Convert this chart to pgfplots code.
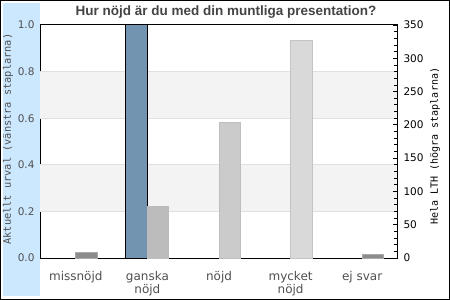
\documentclass[border=0pt]{standalone}
\usepackage{pgfplots}
\pgfplotsset{compat=1.18}
\usepackage{fontspec}
\setmainfont{DejaVu Sans}
\newfontfamily\titlefont{Liberation Sans}
\newfontfamily\monofont{DejaVu Sans Mono}
\definecolor{bandblue}{RGB}{204,232,255}
\definecolor{bandgray}{RGB}{243,243,243}
\definecolor{gridgray}{RGB}{224,224,224}
\definecolor{titlegray}{RGB}{68,68,68}
\definecolor{labgray}{RGB}{80,80,80}
\definecolor{barblue}{RGB}{114,148,176}
\begin{document}
\begin{tikzpicture}[x=1pt,y=1pt]
\fill[white] (0,0) rectangle (450,300);
\fill[bandblue] (3,4) rectangle (40,297);
\draw[black,line width=1.2pt] (0.6,0.6) rectangle (449.4,299.4);
\node[font=\titlefont\bfseries\fontsize{13.5}{16}\selectfont, text=titlegray] at (226,288) {Hur nöjd är du med din muntliga presentation?};
\begin{axis}[
  at={(40pt,42pt)}, anchor=south west, scale only axis,
  width=358pt, height=233pt,
  xmin=-0.5, xmax=4.5, ymin=0, ymax=1,
  axis line style={line width=1pt},
  ytick={0,0.2,0.4,0.6,0.8,1.0},
  ytick pos=left, ytick style={draw=none},
  xtick={0,1,2,3,4}, xtick style={draw=none},
  xticklabels={missnöjd, {ganska\\nöjd}, nöjd, {mycket\\nöjd}, ej svar},
  xticklabel style={align=center, text=labgray, font=\fontsize{12}{13}\selectfont, yshift=-6pt},
  yticklabel style={text=labgray, font=\fontsize{10.5}{12}\selectfont, xshift=-2pt,
    /pgf/number format/.cd, fixed, fixed zerofill, precision=1, assume math mode=true},
  ylabel={Aktuellt urval (vänstra staplarna)},
  ylabel style={at={(axis description cs:-0.0894,0.51)}, anchor=center,
    font=\monofont\fontsize{10.3}{12}\selectfont, text=labgray},
  ybar, bar width=21.4pt,
]
\fill[bandgray] (axis cs:-0.5,0.2) rectangle (axis cs:4.5,0.4);
\fill[bandgray] (axis cs:-0.5,0.6) rectangle (axis cs:4.5,0.8);
\draw[gridgray, line width=0.8pt] (axis cs:-0.5,0.2) -- (axis cs:4.5,0.2);
\draw[gridgray, line width=0.8pt] (axis cs:-0.5,0.4) -- (axis cs:4.5,0.4);
\draw[gridgray, line width=0.8pt] (axis cs:-0.5,0.6) -- (axis cs:4.5,0.6);
\draw[gridgray, line width=0.8pt] (axis cs:-0.5,0.8) -- (axis cs:4.5,0.8);
\addplot[bar shift=-10.7pt, fill=barblue, draw=black, line width=1pt] coordinates {(1,1.0)};
\end{axis}
\begin{axis}[
  at={(40pt,42pt)}, anchor=south west, scale only axis,
  width=358pt, height=233pt,
  xmin=-0.5, xmax=4.5, ymin=0, ymax=350,
  axis x line=none, axis y line*=right,
  axis line style={line width=1pt, -},
  ytick={0,50,...,350}, minor y tick num=4,
  tick align=inside, major tick length=5pt, minor tick length=3.5pt,
  tick style={black, line width=0.8pt},
  yticklabel style={text=black, font=\fontsize{10.5}{12}\selectfont, xshift=2pt,
    /pgf/number format/assume math mode=true},
  ylabel={Hela LTH (högra staplarna)},
  ylabel style={at={(axis description cs:1.1034,0.48)}, anchor=center,
    font=\monofont\fontsize{10}{12}\selectfont, text=black},
  ybar, bar width=21.4pt,
]
\addplot[bar shift=10.7pt, fill={rgb,255:red,140;green,140;blue,140}, draw={rgb,255:red,170;green,170;blue,170}, line width=0.8pt] coordinates {(0,9)};
\addplot[bar shift=10.7pt, fill={rgb,255:red,188;green,188;blue,188}, draw={rgb,255:red,188;green,188;blue,188}, line width=0.8pt] coordinates {(1,78)};
\addplot[bar shift=10.7pt, fill={rgb,255:red,203;green,203;blue,203}, draw={rgb,255:red,190;green,190;blue,190}, line width=0.8pt] coordinates {(2,204)};
\addplot[bar shift=10.7pt, fill={rgb,255:red,217;green,217;blue,217}, draw={rgb,255:red,196;green,196;blue,196}, line width=0.8pt] coordinates {(3,327)};
\addplot[bar shift=10.7pt, fill={rgb,255:red,140;green,140;blue,140}, draw={rgb,255:red,170;green,170;blue,170}, line width=0.8pt] coordinates {(4,6)};
\end{axis}
\pgfresetboundingbox
\useasboundingbox (0,0) rectangle (450,300);
\end{tikzpicture}
\end{document}
